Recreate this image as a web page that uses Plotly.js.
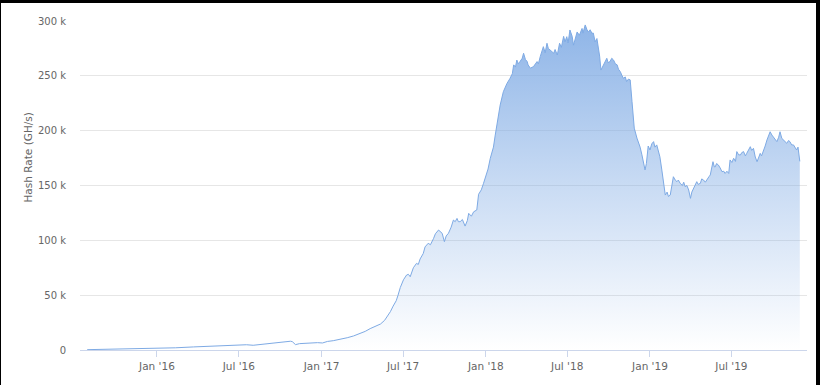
<!DOCTYPE html>
<html>
<head>
<meta charset="utf-8">
<script src="https://cdn.plot.ly/plotly-3.0.1.min.js"></script>
<style>
html,body{margin:0;padding:0;background:#000;width:820px;height:385px;overflow:hidden;}
#chart{position:absolute;left:1px;top:3px;width:815px;height:382px;background:#fff;}
</style>
</head>
<body>
<div id="chart"></div>
<script>
const dates = [
"2015-07-30","2015-08-29","2015-10-12","2015-11-26","2016-01-01","2016-02-11","2016-03-22","2016-05-10",
"2016-07-01","2016-07-18","2016-08-02","2016-08-22","2016-09-16","2016-10-08","2016-10-24","2016-10-28",
"2016-11-04","2016-11-13","2016-11-22","2016-12-07","2016-12-23","2017-01-03","2017-01-14","2017-01-27",
"2017-02-12","2017-02-27","2017-03-13","2017-03-28","2017-04-08","2017-04-19","2017-04-30","2017-05-12",
"2017-05-21","2017-05-27","2017-06-03","2017-06-09","2017-06-16","2017-06-20","2017-06-25","2017-07-02",
"2017-07-09","2017-07-13","2017-07-17","2017-07-24","2017-07-31","2017-08-04","2017-08-08","2017-08-15",
"2017-08-19","2017-08-26","2017-08-31","2017-09-07","2017-09-11","2017-09-18","2017-09-22","2017-09-26",
"2017-10-01","2017-10-05","2017-10-10","2017-10-16","2017-10-21","2017-10-25","2017-10-29","2017-11-01",
"2017-11-05","2017-11-10","2017-11-16","2017-11-21","2017-11-24","2017-11-30","2017-12-05","2017-12-12",
"2017-12-16","2017-12-22","2017-12-27","2018-01-02","2018-01-06","2018-01-11","2018-01-18","2018-01-22",
"2018-01-29","2018-02-02","2018-02-09","2018-02-17","2018-02-24","2018-03-01","2018-03-04","2018-03-08",
"2018-03-11","2018-03-14","2018-03-18","2018-03-23","2018-03-26","2018-03-30","2018-04-03","2018-04-05",
"2018-04-10","2018-04-17","2018-04-25","2018-04-28","2018-05-02","2018-05-06","2018-05-09","2018-05-13",
"2018-05-17","2018-05-20","2018-05-24","2018-06-01","2018-06-04","2018-06-09","2018-06-14","2018-06-18",
"2018-06-23","2018-06-26","2018-06-30","2018-07-03","2018-07-07","2018-07-12","2018-07-15","2018-07-19",
"2018-07-23","2018-07-28","2018-08-03","2018-08-05","2018-08-10","2018-08-14","2018-08-17","2018-08-21",
"2018-08-25","2018-08-28","2018-09-01","2018-09-05","2018-09-08","2018-09-11","2018-09-14","2018-09-17",
"2018-09-20","2018-09-23","2018-09-27","2018-09-30","2018-10-04","2018-10-08","2018-10-12","2018-10-16",
"2018-10-20","2018-10-23","2018-10-27","2018-10-31","2018-11-03","2018-11-07","2018-11-10","2018-11-14",
"2018-11-18","2018-11-22","2018-11-25","2018-11-27","2018-12-03","2018-12-06","2018-12-10","2018-12-14",
"2018-12-17","2018-12-21","2018-12-24","2018-12-28","2019-01-01","2019-01-05","2019-01-09","2019-01-12",
"2019-01-16","2019-01-19","2019-01-23","2019-01-27","2019-01-31","2019-02-04","2019-02-08","2019-02-11",
"2019-02-15","2019-02-18","2019-02-22","2019-02-26","2019-03-02","2019-03-05","2019-03-09","2019-03-14",
"2019-03-17","2019-03-20","2019-03-24","2019-03-28","2019-04-01","2019-04-04","2019-04-08","2019-04-12",
"2019-04-15","2019-04-18","2019-04-23","2019-04-26","2019-04-30","2019-05-04","2019-05-08","2019-05-12",
"2019-05-15","2019-05-18","2019-05-21","2019-05-24","2019-05-26","2019-05-29","2019-06-02","2019-06-06",
"2019-06-10","2019-06-14","2019-06-17","2019-06-21","2019-06-25","2019-06-28","2019-07-02","2019-07-06",
"2019-07-10","2019-07-13","2019-07-17","2019-07-21","2019-07-24","2019-07-28","2019-08-01","2019-08-04",
"2019-08-08","2019-08-12","2019-08-15","2019-08-19","2019-08-23","2019-08-27","2019-08-31","2019-09-03",
"2019-09-06","2019-09-10","2019-09-14","2019-09-18","2019-09-22","2019-09-25","2019-09-29","2019-10-02",
"2019-10-06","2019-10-10","2019-10-14","2019-10-17","2019-10-21","2019-10-25","2019-10-28","2019-11-01",
"2019-11-05","2019-11-08","2019-11-12","2019-11-16","2019-11-19","2019-11-23","2019-11-26","2019-11-29",
"2019-11-30"
];
const hashRate = [
300,500,800,1200,1500,2000,2800,3800,
4600,4800,4300,5300,6200,7200,8000,7600,
4900,5800,6100,6400,6700,6400,7800,8500,
9600,11200,12800,15200,17000,19500,21500,23700,
27000,30400,35000,40000,45000,50000,57000,64000,
68400,69000,66800,75000,79000,78000,83000,88000,
94000,97300,96000,101800,106000,109400,108000,106400,
98800,104000,106400,112000,118500,117000,120000,117000,
117000,119000,113000,118000,124600,122000,126000,127700,
142000,146000,152000,160000,165000,174800,185000,196000,
212000,223400,235500,243000,247800,252000,260000,258000,
264400,261000,263000,266000,270600,265000,263000,260000,
257000,258400,263000,261000,267500,272000,276600,271000,
279700,275000,273600,270600,274000,269000,279700,276000,
286000,281000,285700,280000,291800,286000,278000,285000,
290000,287000,293200,289000,296400,292000,290000,292000,
288800,289000,281000,284000,276600,268000,255300,258000,
260000,263000,266000,262000,263000,266000,264400,261000,
260000,256000,253800,250000,247800,249000,244800,247000,
246300,226500,212000,202300,193200,190000,185000,178000,
172000,164200,170000,186000,182400,188000,190000,185000,
187000,182000,176200,165000,152000,141300,144000,140000,
141300,150000,158000,155000,153500,155000,152000,150000,
153000,149000,150000,145900,138300,144000,147400,151000,
153500,151000,152000,156000,155000,153000,155000,158000,
159600,165000,171700,167000,167000,170000,168700,166000,
162600,163000,161000,163000,161000,173300,171000,174800,
172000,180900,178000,177800,180000,180900,177000,179300,
182000,185400,182000,183900,176000,171700,176000,179300,
177000,180900,186000,191500,196000,199000,196000,194500,
192000,190000,194000,199000,193000,191500,190000,188500,
191000,190000,187000,187000,185000,182400,185000,174800,
172000
];
const yTickVals = [0, 50000, 100000, 150000, 200000, 250000, 300000];
const yTickText = ["0", "50 k", "100 k", "150 k", "200 k", "250 k", "300 k"];
const yTitle = "Hash Rate (GH/s)";

const lineColor = "rgb(126,170,228)";
const fontFam = "DejaVu Sans, Arial, sans-serif";

const trace = {
  x: dates, y: hashRate, type: "scatter", mode: "lines",
  line: {color: lineColor, width: 1},
  fill: "tozeroy",
  fillgradient: {
    type: "vertical", start: 0, stop: 300000,
    colorscale: [[0, "rgba(126,170,228,0.0)"], [0.5, "rgba(126,170,228,0.42)"], [1, "rgba(126,170,228,0.88)"]]
  },
  hoverinfo: "x+y"
};

const layout = {
  width: 815, height: 382,
  margin: {l: 79, r: 9, t: 18, b: 35},
  paper_bgcolor: "#fff", plot_bgcolor: "#fff",
  showlegend: false,
  font: {family: fontFam, size: 10, color: "#666"},
  xaxis: {
    type: "date",
    range: ["2015-07-14", "2019-12-16"],
    tick0: "2016-01-01", dtick: "M6",
    tickformat: "%b '%y",
    ticks: "outside", ticklen: 6, tickcolor: "#ccd6eb", tickwidth: 1,
    showgrid: false, zeroline: false,
    showline: true, linecolor: "#ccd6eb", linewidth: 1,
    tickfont: {family: fontFam, size: 10.5, color: "#666"}
  },
  yaxis: {
    range: [0, 300000],
    tickvals: yTickVals, ticktext: yTickText,
    showgrid: true, gridcolor: "#e6e6e6", gridwidth: 1,
    zeroline: false, showline: false, ticks: "",
    ticklabelstandoff: 13,
    tickfont: {family: fontFam, size: 10, color: "#666"}
  },
  annotations: [{
    text: yTitle, xref: "paper", yref: "paper",
    x: 0, y: 0.585, xshift: -52, xanchor: "center", yanchor: "middle",
    textangle: -90, showarrow: false,
    font: {family: fontFam, size: 10.5, color: "#666"}
  }]
};

Plotly.newPlot("chart", [trace], layout, {staticPlot: true, displayModeBar: false});
</script>
</body>
</html>
